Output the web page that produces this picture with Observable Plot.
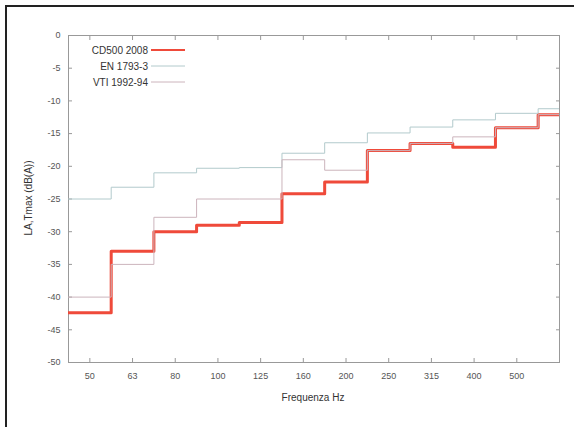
<!DOCTYPE html>
<html>
<head>
<meta charset="utf-8">
<script src="https://cdn.jsdelivr.net/npm/d3@7"></script>
<script src="https://cdn.jsdelivr.net/npm/@observablehq/plot@0.6"></script>
<style>
  html, body { margin: 0; padding: 0; background: #fff; }
  #wrap { position: relative; width: 574px; height: 427px; overflow: hidden; font-family: "Liberation Sans", Arial, sans-serif; }
  #border { position: absolute; left: 5px; top: 5px; width: 700px; height: 600px; border-top: 2px solid #222; border-left: 2px solid #222; }
  #chart { position: absolute; left: 0; top: 0; }
  .legend { position: absolute; left: 60px; top: 42px; font-size: 10px; color: #333; }
  .legend .row { display: flex; align-items: center; height: 16px; }
  .legend .lab { width: 88px; text-align: right; padding-right: 3px; }
  .xtitle { position: absolute; left: 213px; width: 200px; top: 392px; text-align: center; font-size: 10px; color: #333; }
  .ytitle { position: absolute; left: 28px; top: 198px; transform: translate(-50%, -50%) rotate(-90deg); font-size: 10px; color: #333; white-space: nowrap; }
</style>
</head>
<body>
<div id="wrap">
  <div id="border"></div>
  <div id="chart"></div>
  <div class="legend" id="legend"></div>
  <div class="xtitle" id="xtitle"></div>
  <div class="ytitle" id="ytitle"></div>
</div>
<script>
// third-octave bands (Hz)
const bands = ["50", "63", "80", "100", "125", "160", "200", "250", "315", "400", "500", "630"];
// series values, dB(A)
const cd500 = [-42.4, -33.0, -30.0, -29.0, -28.6, -24.2, -22.4, -17.6, -16.5, -17.1, -14.1, -12.1];
const en1793 = [-25.0, -23.2, -21.0, -20.3, -20.2, -18.0, -16.4, -14.9, -14.0, -12.9, -11.9, -11.2];
const vti = [-40.0, -35.0, -27.8, -25.0, -25.0, -19.0, -20.6, -17.6, -16.5, -15.5, -14.1, -12.1];
const seriesNames = ["CD500 2008", "EN 1793-3", "VTI 1992-94"];
const seriesColors = ["#ef4a3a", "#b2cacc", "#ccb4bc"];
const seriesWidths = [3, 1, 1];
const yTicks = [0, -5, -10, -15, -20, -25, -30, -35, -40, -45, -50];
const xTickIdx = [0, 1, 2, 3, 4, 5, 6, 7, 8, 9, 10];
const xTitle = "Frequenza Hz";
const yTitle = "LA,Tmax (dB(A))";

const values = [cd500, en1793, vti];
function stepRows(vals) {
  const rows = [];
  vals.forEach((v, i) => { rows.push({x: i - 0.5, y: v}); rows.push({x: i + 0.5, y: v}); });
  return rows;
}

const axisStyle = {stroke: "#999", fill: "#555"};
const plot = Plot.plot({
  width: 574, height: 427,
  marginLeft: 68, marginRight: 15, marginTop: 35, marginBottom: 65,
  x: {domain: [-0.5, bands.length - 1]},
  y: {domain: [-50, 0]},
  style: {fontFamily: "'Liberation Sans', Arial, sans-serif", fontSize: "9px", color: "#555", background: "transparent"},
  marks: [
    Plot.frame({stroke: "#999"}),
    Plot.axisY(yTicks, {anchor: "left", tickSize: -4, tickPadding: 12, label: null, tickFormat: d => String(d), ...axisStyle}),
    Plot.axisY(yTicks, {anchor: "right", tickSize: -4, label: null, tickFormat: () => "", ...axisStyle}),
    Plot.axisX(xTickIdx, {anchor: "bottom", tickSize: -4, tickPadding: 14, label: null, tickFormat: i => bands[i], ...axisStyle}),
    Plot.axisX(xTickIdx, {anchor: "top", tickSize: -4, label: null, tickFormat: () => "", ...axisStyle}),
    Plot.line(stepRows(values[0]), {x: "x", y: "y", stroke: seriesColors[0], strokeWidth: seriesWidths[0], clip: true}),
    Plot.line(stepRows(values[1]), {x: "x", y: "y", stroke: seriesColors[1], strokeWidth: seriesWidths[1], clip: true}),
    Plot.line(stepRows(values[2]), {x: "x", y: "y", stroke: seriesColors[2], strokeWidth: seriesWidths[2], clip: true})
  ]
});
document.getElementById("chart").appendChild(plot);

const legend = document.getElementById("legend");
seriesNames.forEach((name, i) => {
  const row = document.createElement("div");
  row.className = "row";
  row.innerHTML = `<span class="lab">${name}</span><svg width="34" height="6"><line x1="0" x2="34" y1="3" y2="3" stroke="${seriesColors[i]}" stroke-width="${Math.min(seriesWidths[i], 2)}"/></svg>`;
  legend.appendChild(row);
});
document.getElementById("xtitle").textContent = xTitle;
document.getElementById("ytitle").textContent = yTitle;
</script>
</body>
</html>
